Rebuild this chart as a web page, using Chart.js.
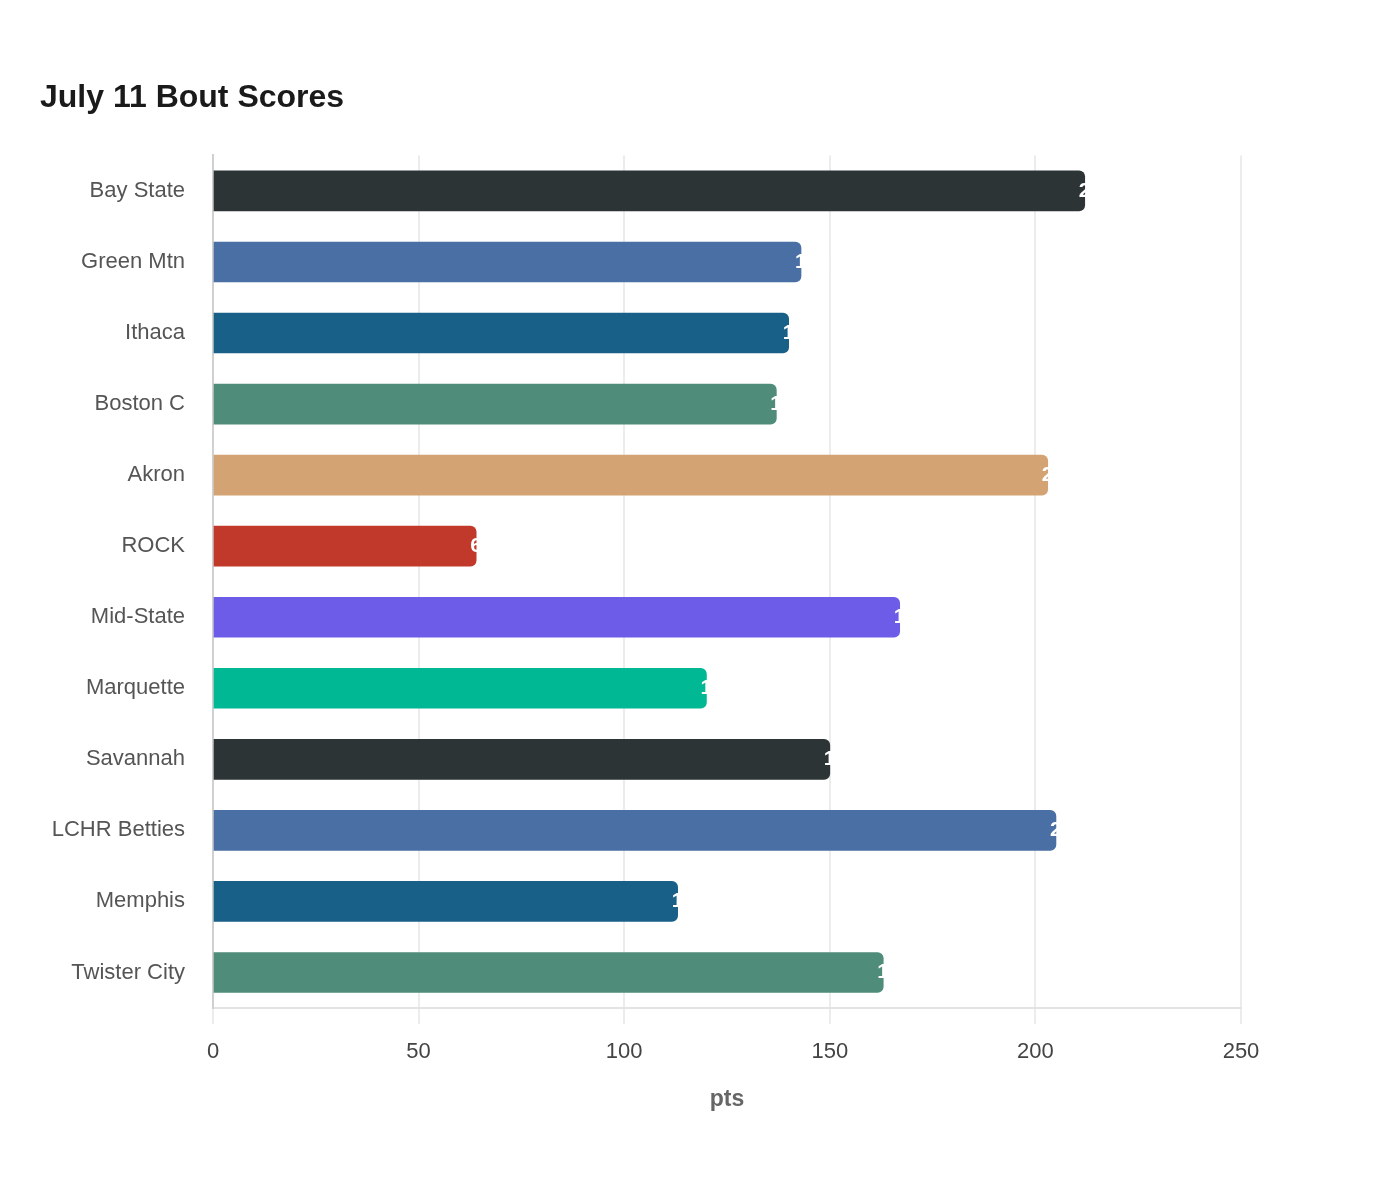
<!DOCTYPE html>
<html><head><meta charset="utf-8">
<script src="https://cdn.jsdelivr.net/npm/chart.js@4"></script>
<style>html,body{margin:0;padding:0;background:#fff;}#wrap{width:1400px;height:1200px;}</style>
</head><body><div id="wrap"><canvas id="c" width="1400" height="1200"></canvas></div>
<script>
const categories = ["Bay State","Green Mtn","Ithaca","Boston C","Akron","ROCK","Mid-State","Marquette","Savannah","LCHR Betties","Memphis","Twister City"];
const scores = [212,143,140,137,203,64,167,120,150,205,113,163];
const barColors = ["#2d3436","#4a6fa5","#186087","#4f8c7a","#d4a373","#c0392b","#6c5ce7","#00b894","#2d3436","#4a6fa5","#186087","#4f8c7a"];
const xTicks = [0,50,100,150,200,250];

const FONT = "'Liberation Sans', Arial, sans-serif";

const endLabels = {
  id: 'endLabels',
  afterDatasetsDraw(chart) {
    const ctx = chart.ctx;
    const meta = chart.getDatasetMeta(0);
    ctx.save();
    ctx.fillStyle = '#ffffff';
    ctx.font = 'bold 21px ' + FONT;
    ctx.textAlign = 'left';
    ctx.textBaseline = 'middle';
    meta.data.forEach((bar, i) => {
      ctx.fillText(String(scores[i]), bar.x - 6, bar.y);
    });
    ctx.restore();
  }
};

new Chart(document.getElementById('c'), {
  type: 'bar',
  data: {
    labels: categories,
    datasets: [{
      data: scores,
      backgroundColor: barColors,
      borderRadius: 6,
      borderSkipped: 'start',
      barThickness: 40
    }]
  },
  options: {
    indexAxis: 'y',
    responsive: false,
    animation: false,
    layout: { padding: { left: 40, right: 159, top: 79, bottom: 83 } },
    plugins: {
      legend: { display: false },
      tooltip: { enabled: false },
      title: {
        display: true,
        text: 'July 11 Bout Scores',
        align: 'start',
        padding: { top: 0, bottom: 38 },
        color: '#1a1a1a',
        font: { family: FONT, size: 32, weight: 'bold' }
      }
    },
    scales: {
      x: {
        min: 0, max: 250,
        afterBuildTicks(axis) { axis.ticks = xTicks.map(v => ({ value: v })); },
        grid: { color: '#ececec', lineWidth: 2, tickLength: 16, drawTicks: true },
        border: { display: true, color: '#e3e3e3', width: 2 },
        ticks: { color: '#444', font: { family: FONT, size: 22 }, padding: 15 },
        title: { display: true, text: 'pts', color: '#666', font: { family: FONT, size: 23, weight: 'bold' }, padding: { top: 5 } }
      },
      y: {
        afterFit(axis) { axis.width = 173; },
        grid: { display: false, drawTicks: false },
        border: { display: true, color: '#d0d0d0', width: 2 },
        ticks: { color: '#555', font: { family: FONT, size: 22 }, padding: 28 }
      }
    }
  },
  plugins: [endLabels]
});
</script></body></html>
